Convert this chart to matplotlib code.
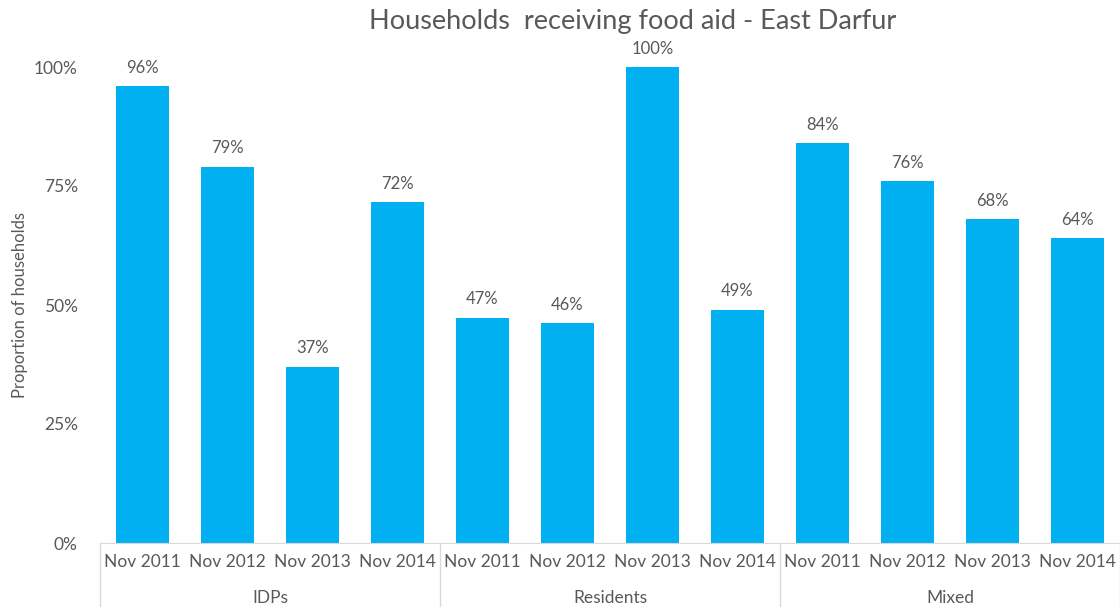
import matplotlib.pyplot as plt
import matplotlib.transforms as mtransforms

# data
groups = ["IDPs", "Residents", "Mixed"]
periods = ["Nov 2011", "Nov 2012", "Nov 2013", "Nov 2014"]
idps = [0.96, 0.79, 0.37, 0.716]
residents = [0.473, 0.462, 1.00, 0.49]
mixed = [0.84, 0.76, 0.68, 0.64]

values = idps + residents + mixed
labels = periods * len(groups)
x = list(range(len(values)))

plt.rcParams['font.family'] = ['Lato', 'DejaVu Sans']
grey = '#595959'

fig = plt.figure(figsize=(11.2, 6.07), dpi=100)
ax = fig.add_axes([100 / 1120, 64 / 607, 1020 / 1120, 476 / 607])

ax.bar(x, values, width=0.62, color='#00B0F0')

# value labels above bars
for xi, v in zip(x, values):
    ax.text(xi, v + 0.022, f"{round(v * 100):.0f}%", ha='center', va='bottom',
            fontsize=12, color=grey, clip_on=False)

ax.set_xlim(-0.5, len(values) - 0.5)
ax.set_ylim(0, 1.0)
ax.set_yticks([0, 0.25, 0.5, 0.75, 1.0])
ax.set_yticklabels(["0%", "25%", "50%", "75%", "100%"])
ax.set_xticks(x)
ax.set_xticklabels(labels)
ax.tick_params(axis='both', length=0, labelsize=12.5, colors=grey)
ax.tick_params(axis='x', pad=8)
ax.tick_params(axis='y', pad=16)

for side in ['top', 'right', 'left']:
    ax.spines[side].set_visible(False)
ax.spines['bottom'].set_color('#D9D9D9')

# group separators and labels under the axis
trans = mtransforms.blended_transform_factory(ax.transData, ax.transAxes)
for sep in [-0.5, 3.5, 7.5, 11.5]:
    ax.plot([sep, sep], [0, -0.135], transform=trans, color='#D9D9D9',
            lw=1, clip_on=False)
for i, g in enumerate(groups):
    ax.text(i * 4 + 1.5, -0.116, g, transform=trans, ha='center', va='center',
            fontsize=12.5, color=grey)

ax.set_ylabel("Proportion of households", fontsize=12, color=grey, labelpad=4)

fig.text(633 / 1120, 1 - 22 / 607, "Households  receiving food aid - East Darfur",
         ha='center', va='center', fontsize=19.5, color=grey)

fig.savefig("out.png", dpi=100)
